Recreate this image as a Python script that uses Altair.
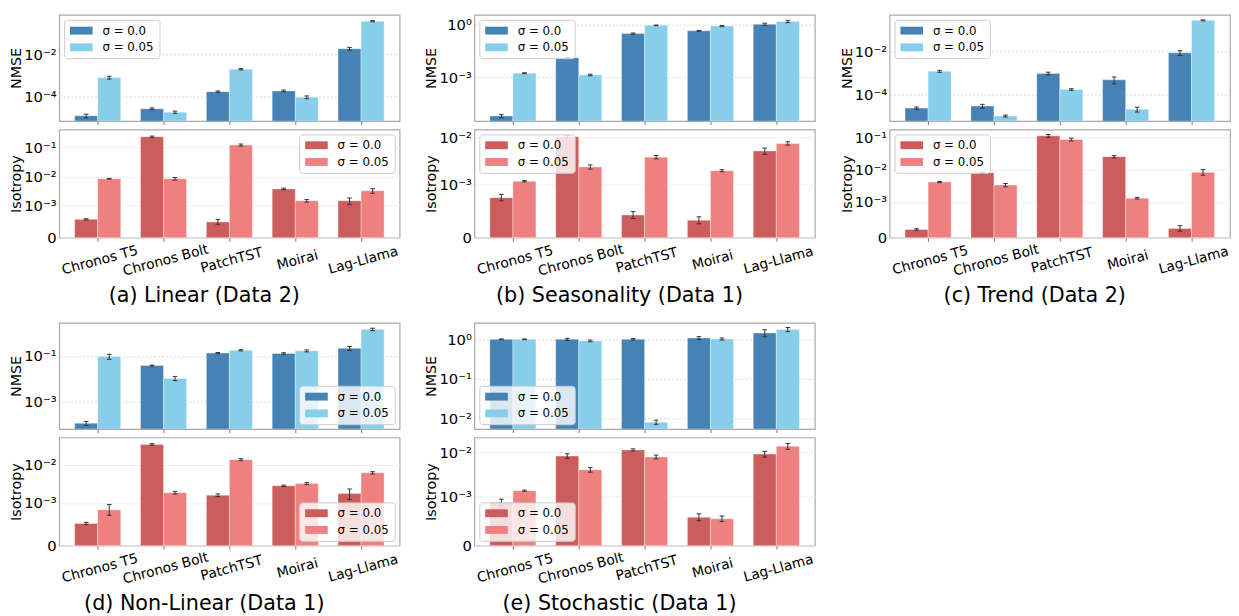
import altair as alt
import pandas as pd
import math

MODELS = ["Chronos T5", "Chronos Bolt", "PatchTST", "Moirai", "Lag-Llama"]
SIGMAS = ["σ = 0.0", "σ = 0.05"]
NMSE_COLORS = ["#4682b4", "#87ceeb"]
ISO_COLORS = ["#cd5c5c", "#f08080"]

CAPTIONS = ["(a) Linear (Data 2)", "(b) Seasonality (Data 1)", "(c) Trend (Data 2)",
            "(d) Non-Linear (Data 1)", "(e) Stochastic (Data 1)"]

# ---- (a) Linear (Data 2)
nmse_a_s0 = [1.2e-5, 2.6e-5, 1.7e-4, 1.85e-4, 1.9e-2]
nmse_a_s1 = [8.0e-4, 1.8e-5, 2.0e-3, 9.3e-5, 0.39]
nmse_a_e0 = [0.2, 0.1, 0.08, 0.1, 0.15]
nmse_a_e1 = [0.15, 0.12, 0.07, 0.15, 0.06]
iso_a_s0 = [5.7e-4, 0.23, 4.9e-4, 3.7e-3, 1.45e-3]
iso_a_s1 = [8.3e-3, 8.3e-3, 0.12, 1.45e-3, 3.2e-3]
iso_a_e0 = [0.03, 0.06, 0.15, 0.06, 0.25]
iso_a_e1 = [0.03, 0.1, 0.08, 0.1, 0.18]

# ---- (b) Seasonality (Data 1)
nmse_b_s0 = [5.9e-6, 0.013, 0.32, 0.46, 1.1]
nmse_b_s1 = [1.7e-3, 1.35e-3, 0.95, 0.87, 1.6]
nmse_b_e0 = [0.2, 0.06, 0.08, 0.06, 0.15]
nmse_b_e1 = [0.06, 0.1, 0.04, 0.08, 0.15]
iso_b_s0 = [7.6e-4, 1.03e-2, 4.3e-4, 3.3e-4, 5.2e-3]
iso_b_s1 = [1.2e-3, 2.4e-3, 3.85e-3, 2.0e-3, 7.5e-3]
iso_b_e0 = [0.08, 0.06, 0.15, 0.2, 0.15]
iso_b_e1 = [0.03, 0.1, 0.08, 0.05, 0.08]

# ---- (c) Trend (Data 2)
nmse_c_s0 = [2.5e-5, 3.1e-5, 9.7e-4, 5.0e-4, 8.7e-3]
nmse_c_s1 = [1.23e-3, 1.08e-5, 1.8e-4, 2.2e-5, 0.27]
nmse_c_e0 = [0.12, 0.2, 0.15, 0.35, 0.25]
nmse_c_e1 = [0.1, 0.1, 0.08, 0.25, 0.05]
iso_c_s0 = [2.3e-4, 7.9e-3, 0.11, 0.025, 2.6e-4]
iso_c_s1 = [4.1e-3, 3.3e-3, 0.085, 1.3e-3, 8.3e-3]
iso_c_e0 = [0.1, 0.05, 0.1, 0.08, 0.3]
iso_c_e1 = [0.04, 0.12, 0.1, 0.06, 0.2]

# ---- (d) Non-Linear (Data 1)
nmse_d_s0 = [1.1e-4, 0.038, 0.135, 0.13, 0.22]
nmse_d_s1 = [0.096, 0.0104, 0.18, 0.17, 1.5]
nmse_d_e0 = [0.2, 0.05, 0.06, 0.08, 0.2]
nmse_d_e1 = [0.25, 0.2, 0.06, 0.1, 0.12]
iso_d_s0 = [5.2e-4, 0.0335, 1.6e-3, 2.8e-3, 1.78e-3]
iso_d_s1 = [8.4e-4, 1.86e-3, 0.0134, 3.2e-3, 6.1e-3]
iso_d_e0 = [0.05, 0.04, 0.08, 0.04, 0.3]
iso_d_e1 = [0.15, 0.08, 0.06, 0.06, 0.07]

# ---- (e) Stochastic (Data 1)
nmse_e_s0 = [1.0, 1.0, 1.0, 1.08, 1.45]
nmse_e_s1 = [1.0, 0.91, 0.0081, 1.02, 1.77]
nmse_e_e0 = [0.02, 0.06, 0.04, 0.08, 0.2]
nmse_e_e1 = [0.02, 0.05, 0.12, 0.06, 0.12]
iso_e_s0 = [8.8e-4, 8.4e-3, 0.0115, 5.8e-4, 9.3e-3]
iso_e_s1 = [1.37e-3, 4.1e-3, 8.0e-3, 5.5e-4, 0.014]
iso_e_e0 = [0.08, 0.12, 0.06, 0.12, 0.15]
iso_e_e1 = [0.03, 0.12, 0.1, 0.1, 0.15]

# axis ranges
NMSE_DOMAINS = [[6.7e-6, 0.78], [3e-6, 3.8], [6.3e-6, 0.48], [6.1e-5, 2.9], [5.4e-3, 2.6]]
NMSE_TICKS = [[-4, -2], [-3, 0], [-4, -2], [-3, -1], [-2, -1, 0]]
ISO_TOPS = [0.41, 0.0147, 0.173, 0.0507, 0.0221]
ISO_TICKS = [[-3, -2, -1], [-3, -2], [-3, -2, -1], [-3, -2], [-3, -2]]
NMSE_LEGEND = ["top-left", "top-left", "top-left", "bottom-right", "bottom-left"]
ISO_LEGEND = ["top-right", "top-left", "top-left", "bottom-right", "bottom-left"]

LINTHRESH = 1e-3
LINSCALE = 1.0 / (1.0 - 1.0 / 10.0)

W = 346
H_N = 108
H_I = 110
X_DOMAIN = [-0.585, 4.585]
BAR_W = 0.35
CAP = 0.035
FONT = "DejaVu Sans"
SYMBOL_PATH = "M-1,-0.8H3.6V0.8H-1Z"

SUP = str.maketrans("-0123456789", "⁻⁰¹²³⁴⁵⁶⁷⁸⁹")


def pow_label(e):
    return "10" + str(e).translate(SUP)


def symlog_py(v):
    if v <= LINTHRESH:
        return v / LINTHRESH * LINSCALE
    return LINSCALE + math.log10(v / LINTHRESH)


def symlog_expr(f):
    return (f"(datum.{f} <= {LINTHRESH} ? datum.{f} / {LINTHRESH} * {LINSCALE} : "
            f"{LINSCALE} + log(datum.{f} / {LINTHRESH}) / LN10)")


def make_df(s0, s1, e0, e1):
    rows = []
    for j, (vals, errs) in enumerate(((s0, e0), (s1, e1))):
        for i, m in enumerate(MODELS):
            rows.append({"model": m, "idx": i, "sj": j, "sigma": SIGMAS[j],
                         "v": vals[i], "rel": errs[i]})
    return pd.DataFrame(rows)


def base_chart(df, iso):
    b = (alt.Chart(df)
         .transform_calculate(xl=f"datum.idx + (datum.sj == 0 ? {-BAR_W} : 0)")
         .transform_calculate(xr=f"datum.idx + (datum.sj == 0 ? 0 : {BAR_W})")
         .transform_calculate(xc=f"datum.idx + (datum.sj == 0 ? {-BAR_W / 2} : {BAR_W / 2})")
         .transform_calculate(xa=f"datum.xc - {CAP}")
         .transform_calculate(xb=f"datum.xc + {CAP}")
         .transform_calculate(lo="datum.v * (1 - datum.rel)")
         .transform_calculate(hi="datum.v * (1 + datum.rel)"))
    if iso:
        b = (b.transform_calculate(ty=symlog_expr("v"))
             .transform_calculate(tlo=symlog_expr("lo"))
             .transform_calculate(thi=symlog_expr("hi")))
    else:
        b = (b.transform_calculate(ty="datum.v")
             .transform_calculate(tlo="datum.lo")
             .transform_calculate(thi="datum.hi"))
    return b


def xscale():
    return alt.Scale(domain=X_DOMAIN, nice=False, zero=False)


def legend(orient):
    return alt.Legend(title=None, orient=orient, offset=5,
                      fillColor="rgba(255,255,255,0.8)", strokeColor="#cccccc",
                      cornerRadius=3, padding=5, symbolType=SYMBOL_PATH, symbolSize=100,
                      symbolStrokeWidth=0, labelFontSize=12, labelOffset=22,
                      rowPadding=5, labelColor="#000", labelFont=FONT)


def label_expr_ternary(pairs):
    expr = "''"
    for thr, lab in reversed(pairs):
        expr = f"datum.value < {thr} ? '{lab}' : {expr}"
    return expr


Y_EXTENT = 33
common_y = dict(tickSize=0, labelPadding=3, minExtent=Y_EXTENT, maxExtent=Y_EXTENT,
                titleFontSize=14.5, titleFontWeight="normal", titlePadding=3,
                domain=False, labelFontSize=15, labelOverlap=False, labelFlush=False,
                labelColor="#000", titleColor="#000", labelFont=FONT, titleFont=FONT)

model_arr = "[" + ",".join(f"'{m}'" for m in MODELS) + "]"


def sub_chart(df, iso, yscale, y2datum, colors, leg, xaxis, yaxis, height):
    b = base_chart(df, iso)
    bars = b.mark_bar(clip=True, stroke="white", strokeWidth=0.6, strokeOpacity=0.6).encode(
        x=alt.X("xl:Q", scale=xscale(), axis=xaxis),
        x2="xr:Q",
        y=alt.Y("ty:Q", scale=yscale, axis=yaxis),
        y2=alt.datum(y2datum),
        color=alt.Color("sigma:N", scale=alt.Scale(domain=SIGMAS, range=colors), legend=leg),
    )
    err = b.mark_rule(clip=True, color="#333333", strokeWidth=1).encode(
        x=alt.X("xc:Q", scale=xscale(), axis=xaxis),
        y=alt.Y("tlo:Q", scale=yscale, axis=yaxis), y2="thi:Q")
    cap_lo = b.mark_rule(clip=True, color="#333333", strokeWidth=1).encode(
        x=alt.X("xa:Q", scale=xscale(), axis=xaxis), x2="xb:Q",
        y=alt.Y("tlo:Q", scale=yscale, axis=yaxis))
    cap_hi = b.mark_rule(clip=True, color="#333333", strokeWidth=1).encode(
        x=alt.X("xa:Q", scale=xscale(), axis=xaxis), x2="xb:Q",
        y=alt.Y("thi:Q", scale=yscale, axis=yaxis))
    return alt.layer(bars, err, cap_lo, cap_hi).properties(width=W, height=height)


def nmse_chart(k, s0, s1, e0, e1):
    df = make_df(s0, s1, e0, e1)
    dom = NMSE_DOMAINS[k]
    ticks = NMSE_TICKS[k]
    lab = " : ".join(f"abs(log(datum.value) / LN10 - ({t})) < 0.01 ? '{pow_label(t)}'" for t in ticks) + " : ''"
    yaxis = alt.Axis(values=[10.0 ** t for t in ticks], labelExpr=lab, title="NMSE",
                     grid=True, gridDash=[2, 2], gridColor="#cfcfcf", gridWidth=0.8, **common_y)
    xaxis = alt.Axis(values=[0, 1, 2, 3, 4], labels=False, ticks=True, tickSize=3.5,
                     tickColor="#777777", domain=False, grid=False, title=None)
    yscale = alt.Scale(type="log", domain=dom, nice=False)
    return sub_chart(df, False, yscale, dom[0], NMSE_COLORS, legend(NMSE_LEGEND[k]),
                     xaxis, yaxis, H_N)


def iso_chart(k, s0, s1, e0, e1):
    df = make_df(s0, s1, e0, e1)
    top = symlog_py(ISO_TOPS[k])
    tvals = [0.0] + [LINSCALE + (t + 3) for t in ISO_TICKS[k]]
    pairs = [(0.5, "0")] + [(LINSCALE + (t + 3) + 0.5, pow_label(t)) for t in ISO_TICKS[k]]
    yaxis = alt.Axis(values=tvals, labelExpr=label_expr_ternary(pairs), title="Isotropy",
                     grid=True, gridColor="#ebebeb", gridWidth=0.8, **common_y)
    xaxis = alt.Axis(values=[0, 1, 2, 3, 4], labelExpr=f"{model_arr}[datum.value]",
                     labelAngle=345, labelAlign="center", labelBaseline="top",
                     labelPadding=12.5, labelFontSize=14, labelFlush=False, labelOverlap=False,
                     labelColor="#000", labelFont=FONT,
                     tickSize=3.5, tickColor="#777777", domain=False, grid=False,
                     title=CAPTIONS[k], titleFontSize=21, titleFontWeight="normal",
                     titleFont=FONT, titleColor="#000",
                     titleX=W / 2 - 26, titleY=64.5, titleAlign="center",
                     titleBaseline="alphabetic")
    yscale = alt.Scale(type="linear", domain=[0, top], nice=False, zero=False)
    return sub_chart(df, True, yscale, 0, ISO_COLORS, legend(ISO_LEGEND[k]),
                     xaxis, yaxis, H_I)


PANELS = [
    (nmse_a_s0, nmse_a_s1, nmse_a_e0, nmse_a_e1, iso_a_s0, iso_a_s1, iso_a_e0, iso_a_e1),
    (nmse_b_s0, nmse_b_s1, nmse_b_e0, nmse_b_e1, iso_b_s0, iso_b_s1, iso_b_e0, iso_b_e1),
    (nmse_c_s0, nmse_c_s1, nmse_c_e0, nmse_c_e1, iso_c_s0, iso_c_s1, iso_c_e0, iso_c_e1),
    (nmse_d_s0, nmse_d_s1, nmse_d_e0, nmse_d_e1, iso_d_s0, iso_d_s1, iso_d_e0, iso_d_e1),
    (nmse_e_s0, nmse_e_s1, nmse_e_e0, nmse_e_e1, iso_e_s0, iso_e_s1, iso_e_e0, iso_e_e1),
]


def panel(k):
    p = PANELS[k]
    top = nmse_chart(k, p[0], p[1], p[2], p[3])
    bot = iso_chart(k, p[4], p[5], p[6], p[7])
    return alt.vconcat(top, bot, spacing=2.5).resolve_scale(color="independent")


COL_SP = 23
ROW_SP = 16
row1 = alt.hconcat(panel(0), panel(1), panel(2), spacing=COL_SP).resolve_scale(color="independent")
row2 = alt.hconcat(panel(3), panel(4), spacing=COL_SP).resolve_scale(color="independent")

chart = (alt.vconcat(row1, row2, spacing=ROW_SP)
         .resolve_scale(color="independent")
         .properties(padding={"left": 0, "top": 1, "right": 0, "bottom": 0}, background="white")
         .configure(font=FONT)
         .configure_view(stroke="#a9a9a9", strokeWidth=1.2))

chart.save("out.html", embed_options={"renderer": "svg", "actions": False})
